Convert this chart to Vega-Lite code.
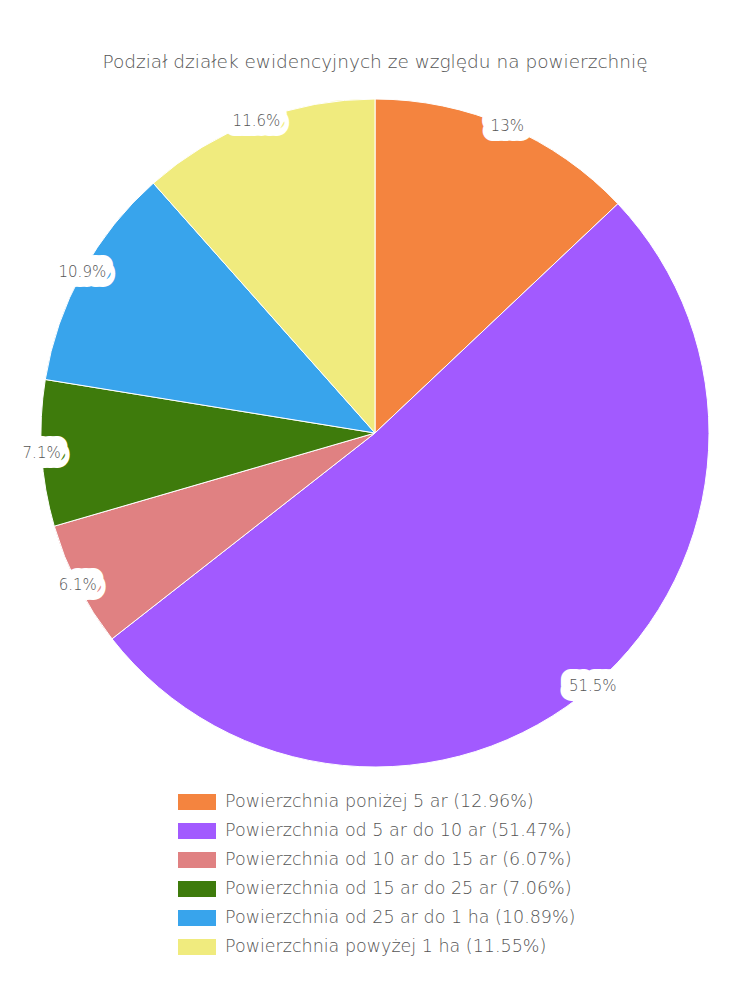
{
  "$schema": "https://vega.github.io/schema/vega-lite/v6.json",
  "width": 750,
  "height": 684,
  "padding": {"top": 52, "left": 0, "right": 0, "bottom": 0},
  "background": "white",
  "title": {
    "text": "Podział działek ewidencyjnych ze względu na powierzchnię",
    "anchor": "middle",
    "font": "DejaVu Sans",
    "fontSize": 18.5,
    "fontWeight": 200,
    "color": "#555555",
    "offset": 20
  },
  "config": {
    "view": {"stroke": null},
    "font": "DejaVu Sans"
  },
  "data": {
    "values": [
      {"order": 1, "category": "Powierzchnia poniżej 5 ar (12.96%)", "value": 12.96, "label": "13%"},
      {"order": 2, "category": "Powierzchnia od 5 ar do 10 ar (51.47%)", "value": 51.47, "label": "51.5%"},
      {"order": 3, "category": "Powierzchnia od 10 ar do 15 ar (6.07%)", "value": 6.07, "label": "6.1%"},
      {"order": 4, "category": "Powierzchnia od 15 ar do 25 ar (7.06%)", "value": 7.06, "label": "7.1%"},
      {"order": 5, "category": "Powierzchnia od 25 ar do 1 ha (10.89%)", "value": 10.89, "label": "10.9%"},
      {"order": 6, "category": "Powierzchnia powyżej 1 ha (11.55%)", "value": 11.55, "label": "11.6%"}
    ]
  },
  "encoding": {
    "theta": {"field": "value", "type": "quantitative", "stack": true},
    "order": {"field": "order", "type": "quantitative"}
  },
  "layer": [
    {
      "mark": {"type": "arc", "outerRadius": 334, "stroke": "white", "strokeWidth": 1},
      "encoding": {
        "color": {
          "field": "category",
          "type": "nominal",
          "sort": null,
          "scale": {
            "domain": [
              "Powierzchnia poniżej 5 ar (12.96%)",
              "Powierzchnia od 5 ar do 10 ar (51.47%)",
              "Powierzchnia od 10 ar do 15 ar (6.07%)",
              "Powierzchnia od 15 ar do 25 ar (7.06%)",
              "Powierzchnia od 25 ar do 1 ha (10.89%)",
              "Powierzchnia powyżej 1 ha (11.55%)"
            ],
            "range": ["#f4843f", "#a25aff", "#e08182", "#3e7b0c", "#38a4ec", "#f0eb7e"]
          },
          "legend": {
            "title": null,
            "orient": "none",
            "legendX": 178,
            "legendY": 692,
            "direction": "vertical",
            "columns": 1,
            "symbolType": "M-1,-0.42H1V0.42H-1Z",
            "symbolSize": 1444,
            "symbolStrokeWidth": 0,
            "labelFont": "DejaVu Sans",
            "labelFontSize": 17.5,
            "labelFontWeight": 200,
            "labelColor": "#555555",
            "labelOffset": 9,
            "labelLimit": 500,
            "rowPadding": 1
          }
        }
      }
    },
    {
      "mark": {
        "type": "text",
        "radius": 334,
        "fontSize": 15,
        "font": "DejaVu Sans",
        "fontWeight": 200,
        "fill": "white",
        "stroke": "white",
        "strokeWidth": 20,
        "strokeJoin": "round",
        "align": "center",
        "baseline": "middle"
      },
      "encoding": {"text": {"field": "label"}}
    },
    {
      "mark": {
        "type": "text",
        "radius": 334,
        "fontSize": 15,
        "font": "DejaVu Sans",
        "fontWeight": 200,
        "color": "#555555",
        "align": "center",
        "baseline": "middle"
      },
      "encoding": {"text": {"field": "label"}}
    }
  ]
}
